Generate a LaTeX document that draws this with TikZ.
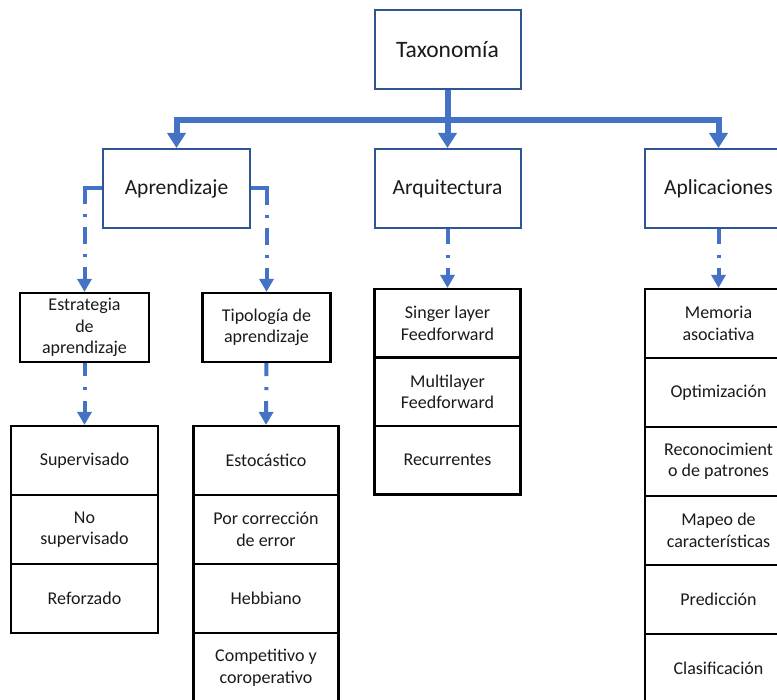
\documentclass[tikz,border=0pt]{standalone}
\usepackage{fontspec}
\setmainfont{Carlito}
\usetikzlibrary{arrows.meta}

\definecolor{conn}{HTML}{4472C4}
\definecolor{topframe}{HTML}{2F5597}
\definecolor{ink}{HTML}{1A1A1A}

\tikzset{
  % first and second level headings
  headbox/.style={draw=topframe, line width=2pt, fill=white, text=ink,
    minimum width=146pt, minimum height=79pt, inner sep=0pt,
    font=\fontsize{21.5}{26}\selectfont},
  % boxes and table cells of the lower levels
  cellbox/.style={draw=black, line width=2.2pt, fill=white, text=ink,
    inner sep=0pt, align=center,
    font=\fontsize{18}{21.5}\selectfont},
  % thick solid bus with arrows
  trunk/.style={draw=conn, line width=6pt,
    -{Triangle[length=15pt,width=18pt]}},
  % dash-dot connectors, pattern given per connector
  ddash/.style={draw=conn, line width=4pt, dash pattern=#1,
    -{Triangle[length=13pt,width=14pt]}}
}

\begin{document}
\begin{tikzpicture}[x=1pt,y=-1pt]
\useasboundingbox (0,0) rectangle (777,700);
\fill[white] (0,0) rectangle (777,700);
\clip (0,0) rectangle (777,700);

% ---- top level and main branches
\node[headbox, font=\fontsize{23.5}{28}\selectfont] (tax) at (447.5,49.5) {Taxonomía};
\node[headbox, minimum width=147pt] (apr) at (176.5,188.5) {Aprendizaje};
\node[headbox] (arq) at (447.5,188.5) {Arquitectura};
\node[headbox, minimum width=147pt] (apl) at (718.5,188.5) {Aplicaciones};

\coordinate (bus) at (447.5,120.5);
\draw[trunk] (tax.south) -- (bus) -| (apr.north);
\draw[trunk] (tax.south) -- (bus) -| (apl.north);
\draw[trunk] (tax.south) -- (arq.north);

% ---- learning branch
\node[cellbox, minimum width=129pt, minimum height=69pt] (estr) at (84.5,327.5)
  {Estrategia\\de\\aprendizaje};
\node[cellbox, minimum width=128pt, minimum height=69pt] (tipo) at (266.5,327.5)
  {Tipología de\\aprendizaje};

\draw[ddash={on 33pt off 10pt on 3pt off 10pt on 17pt off 10pt on 3pt off 10pt on 40pt}]
  (apr.west) -| (estr.north);
\draw[ddash={on 32pt off 10pt on 3pt off 10pt on 17pt off 10pt on 3pt off 10pt on 40pt}]
  (apr.east) -| (tipo.north);

% learning strategies
\begin{scope}[every node/.style={cellbox, minimum width=147pt, minimum height=69pt}]
  \node (sup) at (84.5,460.5) {Supervisado};
  \node (nosup) at (84.5,529.5) {No\\supervisado};
  \node (ref) at (84.5,598.5) {Reforzado};
\end{scope}

% learning types
\begin{scope}[every node/.style={cellbox, minimum width=145pt, minimum height=69pt}]
  \node (esto) at (266,460.5) {Estocástico};
  \node (corr) at (266,529.5) {Por corrección\\de error};
  \node (hebb) at (266,598.5) {Hebbiano};
  \node (comp) at (266,667.5) {Competitivo y\\coroperativo};
\end{scope}

\draw[ddash={on 13pt off 11pt on 3pt off 11pt on 40pt}] (estr.south) -- (sup.north);
\draw[ddash={on 13pt off 11pt on 3pt off 11pt on 40pt}] (tipo.south) -- (esto.north);

% ---- architecture branch
\begin{scope}[every node/.style={cellbox, minimum width=146pt, minimum height=68.5pt}]
  \node (sing) at (447.5,323.25) {Singer layer\\Feedforward};
  \node (multi) at (447.5,391.75) {Multilayer\\Feedforward};
  \node (recu) at (447.5,460.25) {Recurrentes};
\end{scope}
\draw[ddash={on 15pt off 11pt on 3pt off 10pt on 30pt}] (arq.south) -- (sing.north);

% ---- applications branch
\begin{scope}[every node/.style={cellbox, minimum width=147pt, minimum height=69pt}]
  \node (memo) at (718.5,323.5) {Memoria\\asociativa};
  \node (opti) at (718.5,392.5) {Optimización};
  \node (reco) at (718.5,461.5) {Reconocimient\\o de patrones};
  \node (mapeo) at (718.5,530.5) {Mapeo de\\características};
  \node (pred) at (718.5,599.5) {Predicción};
  \node (clas) at (718.5,668.5) {Clasificación};
\end{scope}
\draw[ddash={on 15pt off 11pt on 3pt off 10pt on 30pt}] (apl.south) -- (memo.north);

\end{tikzpicture}
\end{document}
